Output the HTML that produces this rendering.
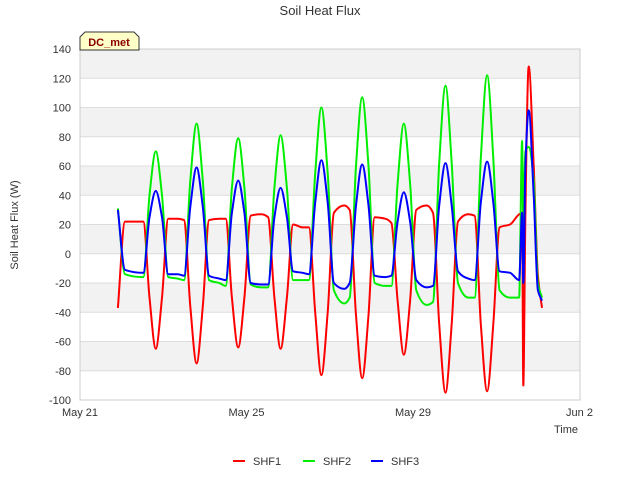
<!DOCTYPE html>
<html><head><meta charset="utf-8"><style>
body{margin:0;background:#fff;font-family:"Liberation Sans",sans-serif;}
svg text{font-family:"Liberation Sans",sans-serif;}
</style></head><body>
<svg id="chart" width="640" height="480">
<text x="320" y="15" text-anchor="middle" font-size="13" fill="#333">Soil Heat Flux</text>
<g id="bands"></g><g id="grid"></g>
<rect x="80" y="49" width="500" height="351" fill="none" stroke="#ccc"/>
<g id="yt"></g><g id="xt"></g>
<text x="18" y="225" transform="rotate(-90 18 225)" text-anchor="middle" font-size="11" fill="#333">Soil Heat Flux (W)</text>
<text x="578" y="433" text-anchor="end" font-size="11" fill="#333">Time</text>
<g id="series"></g>
<g><path d="M80,50 L80,37 L85,32 L134,32 L139,37 L139,50 Z" fill="#ffffc8" stroke="#333"/><text x="109" y="46" text-anchor="middle" font-size="11" font-weight="bold" fill="#8b0000">DC_met</text></g>
<g id="legend"></g>
</svg>
<script>
const yTicks=[-100,-80,-60,-40,-20,0,20,40,60,80,100,120,140];
const xTickLabels=["May 21","May 25","May 29","Jun 2"];
const xTickDays=[0,4,8,12];
const T=[0.91,1.08,1.52,1.67,1.82,1.97,2.12,2.35,2.50,2.65,2.80,2.95,3.10,3.35,3.50,3.65,3.80,3.95,4.10,4.35,4.52,4.67,4.82,4.97,5.12,5.35,5.50,5.65,5.80,5.95,6.10,6.35,6.48,6.63,6.78,6.93,7.08,7.33,7.48,7.63,7.78,7.93,8.08,8.33,8.48,8.63,8.78,8.93,9.08,9.33,9.48,9.63,9.78,9.93,10.08,10.33,10.55,10.62,10.65,10.70,10.78,10.9,11.0,11.1];
const SHF1=[-37,22,22,-30,-65,-30,24,24,23,-36,-75,-36,23,24,24,-30,-64,-30,26,27,25,-30,-65,-30,20,18,18,-40,-83,-40,28,33,30,-42,-85,-42,25,24,21,-32,-69,-32,30,33,28,-48,-95,-48,22,27,26,-48,-94,-48,18,20,27,28,-90,28,128,60,-15,-37];
const SHF2=[31,-14,-16,40,70,40,-16,-17,-18,50,89,50,-18,-20,-22,45,79,45,-21,-23,-23,45,81,45,-18,-18,-18,55,100,55,-25,-34,-30,60,107,60,-20,-22,-22,48,89,48,-25,-35,-33,62,115,62,-20,-30,-30,65,122,65,-25,-30,-30,77,20,70,73,50,-20,-30];
const SHF3=[30,-11,-13,25,43,25,-14,-14,-15,32,59,32,-15,-17,-18,28,50,28,-20,-21,-21,25,45,25,-12,-13,-14,35,64,35,-20,-24,-20,33,61,33,-15,-16,-15,22,42,22,-18,-23,-22,33,62,33,-12,-17,-18,35,63,35,-12,-13,-18,28,-20,60,98,40,-25,-32];
const seriesNames=["SHF1","SHF2","SHF3"];
const seriesColors=["#ff0000","#00ee00","#0000ff"];
const seriesData=[SHF1,SHF2,SHF3];
const NS="http://www.w3.org/2000/svg";
const X=t=>80+t*41.625, Y=v=>49+(140-v)*351/240;
function mk(tag,attrs,parent){const e=document.createElementNS(NS,tag);for(const k in attrs)e.setAttribute(k,attrs[k]);parent.appendChild(e);return e;}
function monotonePath(xs,ys){
  const n=xs.length,d=[],m=new Array(n);
  for(let i=0;i<n-1;i++)d.push((ys[i+1]-ys[i])/(xs[i+1]-xs[i]));
  m[0]=d[0];m[n-1]=d[n-2];
  for(let i=1;i<n-1;i++){m[i]=(d[i-1]*d[i]<=0)?0:3*(d[i-1]+d[i])/ (2+ (d[i]/d[i-1]) + (d[i-1]/d[i]) ) ;
    if(d[i-1]*d[i]>0){const w1=2*(xs[i+1]-xs[i])+(xs[i]-xs[i-1]),w2=(xs[i+1]-xs[i])+2*(xs[i]-xs[i-1]);m[i]=(w1+w2)/(w1/d[i-1]+w2/d[i]);}}
  let s='M'+xs[0].toFixed(1)+','+ys[0].toFixed(1);
  for(let i=0;i<n-1;i++){const h=(xs[i+1]-xs[i])/3;
    s+='C'+(xs[i]+h).toFixed(1)+','+(ys[i]+m[i]*h).toFixed(1)+' '+(xs[i+1]-h).toFixed(1)+','+(ys[i+1]-m[i+1]*h).toFixed(1)+' '+xs[i+1].toFixed(1)+','+ys[i+1].toFixed(1);}
  return s;
}
const bands=document.getElementById('bands'),grid=document.getElementById('grid'),yt=document.getElementById('yt'),xt=document.getElementById('xt');
for(let i=0;i<yTicks.length-1;i++){
  const v=yTicks[i];
  if([-80,-40,0,40,80,120].includes(v)){const r=mk('rect',{x:80,y:Y(v+20),width:500,height:Y(v)-Y(v+20),fill:'#f2f2f2'},bands);
  
  }
}
yTicks.forEach(v=>{
  const l=mk('line',{x1:80,x2:580,y1:Y(v),y2:Y(v),stroke:'#ddd'},grid);
  
  
  const t=mk('text',{x:71,y:Y(v)+4,'text-anchor':'end','font-size':11,fill:'#333'},yt);t.textContent=v;
  
  
});
xTickDays.forEach((d,i)=>{
  const t=mk('text',{x:X(d),y:416,'text-anchor':'middle','font-size':11,fill:'#333'},xt);t.textContent=xTickLabels[i];
  
  
});
const sg=document.getElementById('series');
seriesData.forEach((arr,si)=>{
  const d=monotonePath(T.map(X),arr.map(Y));
  const p=mk('path',{d:d,fill:'none',stroke:seriesColors[si],'stroke-width':2,'stroke-linejoin':'round'},sg);
  
  
});
const lg=document.getElementById('legend');
const lx=[233,303,371];
seriesNames.forEach((n,i)=>{
  const g=mk('g',{},lg);
  
  
  mk('line',{x1:lx[i],x2:lx[i]+12,y1:461,y2:461,stroke:seriesColors[i],'stroke-width':2},g);
  const t=mk('text',{x:lx[i]+20,y:465,'font-size':11,fill:'#333'},g);t.textContent=n;
});
</script>
</body></html>
